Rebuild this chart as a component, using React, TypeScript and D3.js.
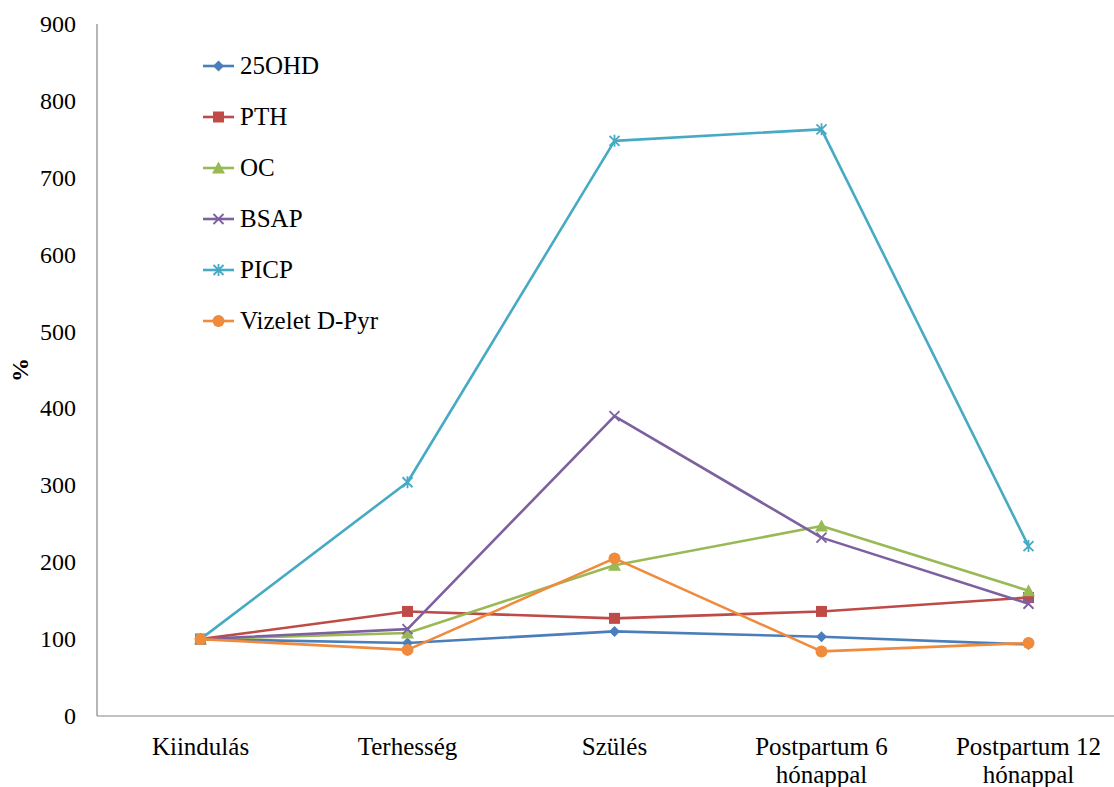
import React, { useEffect, useRef } from "react";
import * as d3 from "d3";

const categories = ["Kiindulás", "Terhesség", "Szülés", "Postpartum 6|hónappal", "Postpartum 12|hónappal"];
const seriesNames = ["25OHD", "PTH", "OC", "BSAP", "PICP", "Vizelet D-Pyr"];
const ohd = [100, 95, 110, 103, 93];
const pth = [100, 136, 127, 136, 154];
const oc = [100, 108, 196, 247, 163];
const bsap = [100, 113, 390, 232, 146];
const picp = [100, 304, 748, 763, 221];
const dpyr = [100, 86, 205, 84, 95];
const seriesValues = [ohd, pth, oc, bsap, picp, dpyr];
const colors = ["#4A7EBB", "#BE4B48", "#98B954", "#7D60A0", "#46AAC5", "#F08A3C"];
const markers = ["diamond", "square", "triangle", "x", "asterisk", "circle"];
const yTicks = [0, 100, 200, 300, 400, 500, 600, 700, 800, 900];

const W = 1114, H = 787;
const FONT = "'Liberation Serif', 'Times New Roman', serif";
const FS = 24;
const FS2 = 25;

function drawMarker(g: any, type: string, x: number, y: number, color: string) {
  if (type === "diamond") {
    g.append("path").attr("d", `M${x},${y - 5.5}L${x + 5.5},${y}L${x},${y + 5.5}L${x - 5.5},${y}Z`).attr("fill", color);
  } else if (type === "square") {
    g.append("rect").attr("x", x - 5.5).attr("y", y - 5.5).attr("width", 11).attr("height", 11).attr("fill", color);
  } else if (type === "triangle") {
    g.append("path").attr("d", `M${x},${y - 6.5}L${x + 6.5},${y + 5.5}L${x - 6.5},${y + 5.5}Z`).attr("fill", color);
  } else if (type === "x") {
    g.append("path").attr("d", `M${x - 5},${y - 5}L${x + 5},${y + 5}M${x - 5},${y + 5}L${x + 5},${y - 5}`).attr("stroke", color).attr("stroke-width", 1.8);
  } else if (type === "asterisk") {
    g.append("path").attr("d", `M${x - 5},${y - 5}L${x + 5},${y + 5}M${x - 5},${y + 5}L${x + 5},${y - 5}M${x},${y - 6}L${x},${y + 6}`).attr("stroke", color).attr("stroke-width", 1.8);
  } else {
    g.append("circle").attr("cx", x).attr("cy", y).attr("r", 6).attr("fill", color);
  }
}

export default function App() {
  const ref = useRef<SVGSVGElement>(null);
  useEffect(() => {
    const svg = d3.select(ref.current);
    svg.selectAll("*").remove();
    const left = 97, top = 24, bottom = 716;
    const x = d3.scaleBand().domain(categories).range([left, left + 5 * 207]);
    const y = d3.scaleLinear().domain([0, 900]).range([bottom, top]);
    const cx = (c: string) => (x(c) as number) + x.bandwidth() / 2;

    // axes
    svg.append("line").attr("x1", left).attr("x2", left).attr("y1", top).attr("y2", bottom).attr("stroke", "#868686").attr("stroke-width", 1.2);
    svg.append("line").attr("x1", left).attr("x2", W).attr("y1", bottom).attr("y2", bottom).attr("stroke", "#868686").attr("stroke-width", 1.2);

    svg.selectAll(".yt").data(yTicks).enter().append("text")
      .attr("x", 76).attr("y", (d) => y(d) + 8).attr("text-anchor", "end")
      .attr("font-family", FONT).attr("font-size", FS).attr("fill", "#000").text((d) => d);

    categories.forEach((c) => {
      const lines = c.split("|");
      lines.forEach((ln, i) => {
        svg.append("text").attr("x", cx(c)).attr("y", 755 + i * 28).attr("text-anchor", "middle")
          .attr("font-family", FONT).attr("font-size", FS2).attr("fill", "#000").text(ln);
      });
    });

    svg.append("text").attr("transform", `translate(28,370) rotate(-90)`).attr("text-anchor", "middle")
      .attr("font-family", FONT).attr("font-size", FS).attr("font-weight", "bold").text("%");

    const line = d3.line<number>().x((_, i) => cx(categories[i])).y((d) => y(d));
    seriesValues.forEach((vals, si) => {
      const g = svg.append("g");
      g.append("path").attr("d", line(vals) as string).attr("fill", "none").attr("stroke", colors[si]).attr("stroke-width", 2.6).attr("stroke-linejoin", "round");
      vals.forEach((v, i) => drawMarker(g, markers[si], cx(categories[i]), y(v), colors[si]));
    });

    // legend
    seriesNames.forEach((name, i) => {
      const ly = 66 + i * 51;
      const g = svg.append("g");
      g.append("line").attr("x1", 203).attr("x2", 234).attr("y1", ly).attr("y2", ly).attr("stroke", colors[i]).attr("stroke-width", 2.6);
      drawMarker(g, markers[i], 218.5, ly, colors[i]);
      g.append("text").attr("x", 240).attr("y", ly + 8).attr("font-family", FONT).attr("font-size", FS2).attr("fill", "#000").text(name);
    });
  }, []);
  return (
    <svg ref={ref} width={W} height={H} style={{ position: "absolute", left: 0, top: 0, background: "#fff" }} />
  );
}
